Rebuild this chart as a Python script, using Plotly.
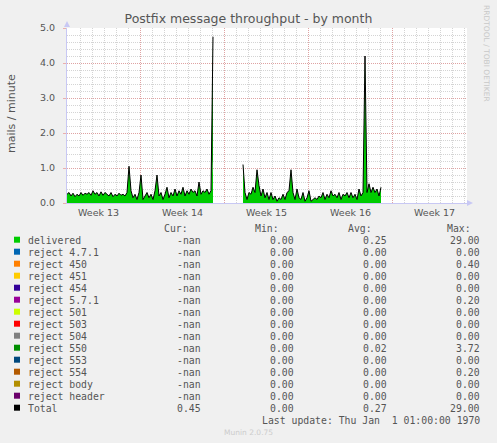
import plotly.graph_objects as go

# ---------------- data ----------------
title_text = "Postfix message throughput - by month"
y_label = "mails / minute"

# samples every 4 hours, x measured in days after Monday 00:00 of week 13
start_day = 0.917
step_days = 1 / 6

total = [
    0.25, 0.3, 0.2, 0.28, 0.18, 0.25, 0.2, 0.3, 0.22, 0.28,
    0.25, 0.3, 0.22, 0.35, 0.25, 0.3, 0.2, 0.32, 0.22, 0.3,
    0.25, 0.2, 0.3, 0.18, 0.25, 0.2, 0.28, 0.22, 0.25, 0.2,
    0.3, 1.05, 0.35, 0.15, 0.25, 0.1, 0.3, 0.8, 0.1, 0.2,
    0.3, 0.15, 0.25, 0.1, 0.35, 0.8, 0.2, 0.3, 0.1, 0.25,
    0.45, 0.15, 0.3, 0.2, 0.4, 0.2, 0.35, 0.25, 0.45, 0.2,
    0.35, 0.25, 0.4, 0.3, 0.35, 0.2, 0.6, 0.25, 0.35, 0.3,
    0.4, 0.25, 0.35, 4.75,
    None, None, None, None, None, None, None, None, None, None, None, None, None, None,
    1.1, 0.3, 0.1, 0.3, 0.25, 0.45, 0.3, 0.95, 0.5, 0.2,
    0.4, 0.15, 0.3, 0.1, 0.3, 0.1, 0.2, 0.05, 0.15, 0.1,
    0.25, 0.1, 0.3, 0.35, 0.95, 0.3, 0.1, 0.4, 0.15, 0.1,
    0.3, 0.05, 0.15, 0.35, 0.05, 0.1, 0.15, 0.1, 0.2, 0.15,
    0.3, 0.1, 0.25, 0.15, 0.35, 0.2, 0.25, 0.15, 0.3, 0.1,
    0.25, 0.2, 0.3, 0.15, 0.3, 0.15, 0.25, 0.1, 0.4, 0.2,
    0.3, 4.2, 0.3, 0.55, 0.3, 0.45, 0.3, 0.4, 0.2, 0.45,
]

delivered = [
    0.25, 0.3, 0.2, 0.28, 0.18, 0.25, 0.2, 0.3, 0.22, 0.28,
    0.25, 0.3, 0.22, 0.35, 0.25, 0.3, 0.2, 0.32, 0.22, 0.3,
    0.25, 0.2, 0.3, 0.18, 0.25, 0.2, 0.28, 0.22, 0.25, 0.2,
    0.3, 1.05, 0.35, 0.15, 0.25, 0.1, 0.3, 0.8, 0.1, 0.2,
    0.3, 0.15, 0.25, 0.1, 0.35, 0.8, 0.2, 0.3, 0.1, 0.25,
    0.45, 0.15, 0.3, 0.2, 0.4, 0.2, 0.35, 0.25, 0.45, 0.2,
    0.35, 0.25, 0.4, 0.3, 0.35, 0.2, 0.6, 0.25, 0.35, 0.3,
    0.4, 0.25, 0.35, 1.25,
    None, None, None, None, None, None, None, None, None, None, None, None, None, None,
    1.1, 0.3, 0.1, 0.3, 0.25, 0.45, 0.3, 0.95, 0.5, 0.2,
    0.4, 0.15, 0.3, 0.1, 0.3, 0.1, 0.2, 0.05, 0.15, 0.1,
    0.25, 0.1, 0.3, 0.35, 0.95, 0.3, 0.1, 0.4, 0.15, 0.1,
    0.3, 0.05, 0.15, 0.35, 0.05, 0.1, 0.15, 0.1, 0.2, 0.15,
    0.3, 0.1, 0.25, 0.15, 0.35, 0.2, 0.25, 0.15, 0.3, 0.1,
    0.25, 0.2, 0.3, 0.15, 0.3, 0.15, 0.25, 0.1, 0.4, 0.2,
    0.3, 4.2, 0.3, 0.55, 0.3, 0.45, 0.3, 0.4, 0.2, 0.45,
]

week_labels = ["Week 13", "Week 14", "Week 15", "Week 16", "Week 17"]
week_centers = [3.5, 10.5, 17.5, 24.5, 31.5]
week_starts = [7, 14, 21, 28]
x_range = [0.917, 34.25]
y_range = [0, 5.0]
y_ticks = [0, 1, 2, 3, 4, 5]

series_names = ["delivered", "reject 4.7.1", "reject 450", "reject 451", "reject 454",
                "reject 5.7.1", "reject 501", "reject 503", "reject 504", "reject 550",
                "reject 553", "reject 554", "reject body", "reject header", "Total"]
series_colors = ["#00CC00", "#0066B3", "#FF8000", "#FFCC00", "#330099",
                 "#990099", "#CCFF00", "#FF0000", "#808080", "#008F00",
                 "#00487D", "#B35A00", "#B38F00", "#6B006B", "#000000"]
cur_vals = ["-nan"] * 14 + ["0.45"]
min_vals = ["0.00"] * 15
avg_vals = ["0.25", "0.00", "0.00", "0.00", "0.00", "0.00", "0.00", "0.00",
            "0.00", "0.02", "0.00", "0.00", "0.00", "0.00", "0.27"]
max_vals = ["29.00", "0.00", "0.40", "0.00", "0.00", "0.20", "0.00", "0.00",
            "0.00", "3.72", "0.00", "0.20", "0.00", "0.00", "29.00"]
column_heads = ["Cur:", "Min:", "Avg:", "Max:"]
last_update = "Last update: Thu Jan\u00a0\u00a01 01:00:00 1970"
footer = "Munin 2.0.75"
watermark = "RRDTOOL / TOBI OETIKER"

# ---------------- geometry helpers ----------------
W, H = 497, 443
L, R, T, B = 67, 30, 28, 240
PW, PH = W - L - R, H - T - B


def px(xp):
    return (xp - L) / PW


def py(yp):
    return (H - B - yp) / PH


x_vals = [start_day + i * step_days for i in range(len(total))]

# split into contiguous segments (gaps = no data)
segments = []
cur_seg = []
for i, v in enumerate(total):
    if v is None:
        if cur_seg:
            segments.append(cur_seg)
            cur_seg = []
    else:
        cur_seg.append(i)
if cur_seg:
    segments.append(cur_seg)

fig = go.Figure()

for seg in segments:
    sx = [x_vals[i] for i in seg]
    sd = [delivered[i] for i in seg]
    st = [total[i] for i in seg]
    fig.add_trace(go.Scatter(
        x=sx, y=sd, mode="lines", line=dict(width=0, color=series_colors[0]),
        fill="tozeroy", fillcolor=series_colors[0],
        hoverinfo="skip", showlegend=False))
    fig.add_trace(go.Scatter(
        x=sx, y=st, mode="lines", line=dict(width=0, color=series_colors[9]),
        fill="tonexty", fillcolor=series_colors[9],
        hoverinfo="skip", showlegend=False))
for seg in segments:
    sx = [x_vals[i] for i in seg]
    st = [total[i] for i in seg]
    fig.add_trace(go.Scatter(
        x=sx, y=st, mode="lines", line=dict(width=1, color="#000000"),
        hoverinfo="skip", showlegend=False))

grid_red = "rgba(230,130,130,0.6)"
grid_grey = "#d4d4d4"
axis_col = "#c8c8f4"
text_col = "#555555"

fig.update_layout(
    width=W, height=H,
    margin=dict(l=L, r=R, t=T, b=B, pad=0, autoexpand=False),
    paper_bgcolor="#F0F0F0", plot_bgcolor="#FFFFFF",
    showlegend=False,
    title=dict(text=title_text, x=0.5, xref="container", xanchor="center",
               y=1 - 19 / H, yref="container", yanchor="middle",
               font=dict(family="DejaVu Sans", size=12.5, color="#555555")),
    xaxis=dict(range=x_range, tickmode="array", tickvals=week_starts,
               showticklabels=False, ticks="", showgrid=True,
               gridcolor=grid_red, griddash="1px,1px", gridwidth=1,
               minor=dict(dtick=1, tick0=0, showgrid=True, gridcolor=grid_grey,
                          griddash="1px,1px", gridwidth=1, ticks=""),
               showline=True, linecolor=axis_col, linewidth=1,
               zeroline=False, fixedrange=True),
    yaxis=dict(range=y_range, tickmode="array", tickvals=y_ticks, tickformat=".1f",
               ticks="outside", ticklen=3, tickcolor=grid_red,
               ticklabelstandoff=6,
               tickfont=dict(family="DejaVu Sans", size=9.5, color=text_col),
               showgrid=True, gridcolor=grid_red, griddash="1px,1px", gridwidth=1,
               minor=dict(dtick=0.2, tick0=0, showgrid=True, gridcolor=grid_grey,
                          griddash="1px,1px", gridwidth=1, ticks=""),
               showline=True, linecolor=axis_col, linewidth=1,
               zeroline=False, fixedrange=True),
)

annotations = []
shapes = []

# week labels
for wl, wc in zip(week_labels, week_centers):
    annotations.append(dict(x=wc, y=py(212), xref="x", yref="paper", text=wl,
                            showarrow=False, xanchor="center", yanchor="middle",
                            font=dict(family="DejaVu Sans", size=9.5, color=text_col)))

# y-axis label
annotations.append(dict(x=px(11), y=py(113), xref="paper", yref="paper", text=y_label,
                        showarrow=False, textangle=-90, xanchor="center", yanchor="middle",
                        font=dict(family="DejaVu Sans", size=11, color=text_col)))

# watermark
annotations.append(dict(x=px(487), y=py(53), xref="paper", yref="paper", text=watermark,
                        showarrow=False, textangle=90, xanchor="center", yanchor="middle",
                        font=dict(family="DejaVu Sans", size=7.5, color="#c8c8c8")))

# footer
annotations.append(dict(x=px(248), y=py(433), xref="paper", yref="paper", text=footer,
                        showarrow=False, xanchor="center", yanchor="middle",
                        font=dict(family="DejaVu Sans", size=7.5, color="#cccccc")))

mono = dict(family="DejaVu Sans Mono", size=9.8, color=text_col)

# column heads
head_right = [190, 281, 374, 473]
for hname, hx in zip(column_heads, head_right):
    annotations.append(dict(x=px(hx), y=py(228), xref="paper", yref="paper", text=hname,
                            showarrow=False, xanchor="right", yanchor="middle", font=mono))

col_right = [203, 296, 389, 482]
row0 = 240
row_step = 12
for i, name in enumerate(series_names):
    yr = row0 + i * row_step
    shapes.append(dict(type="rect", xref="paper", yref="paper",
                       x0=px(14), x1=px(20), y0=py(yr - 3.3), y1=py(yr + 2.7),
                       fillcolor=series_colors[i], line=dict(width=0)))
    annotations.append(dict(x=px(26), y=py(yr), xref="paper", yref="paper", text=name,
                            showarrow=False, xanchor="left", yanchor="middle", font=mono))
    for vals, cx in zip([cur_vals, min_vals, avg_vals, max_vals], col_right):
        annotations.append(dict(x=px(cx), y=py(yr), xref="paper", yref="paper",
                                text=vals[i], showarrow=False, xanchor="right",
                                yanchor="middle", font=mono))

annotations.append(dict(x=px(482), y=py(row0 + 15 * row_step), xref="paper", yref="paper",
                        text=last_update, showarrow=False, xanchor="right",
                        yanchor="middle", font=mono))

# axis arrows
shapes.append(dict(type="path", xref="paper", yref="paper",
                   path=f"M {px(64)} {py(27)} L {px(70)} {py(27)} L {px(67)} {py(21)} Z",
                   fillcolor=axis_col, line=dict(width=0)))
shapes.append(dict(type="path", xref="paper", yref="paper",
                   path=f"M {px(467)} {py(200)} L {px(467)} {py(206)} L {px(473)} {py(203)} Z",
                   fillcolor=axis_col, line=dict(width=0)))

fig.update_layout(annotations=annotations, shapes=shapes)

fig.write_html(
    "out.html",
    config={"displayModeBar": False, "staticPlot": True},
    post_script="document.body.style.margin='0px';document.body.style.overflow='hidden';",
)
